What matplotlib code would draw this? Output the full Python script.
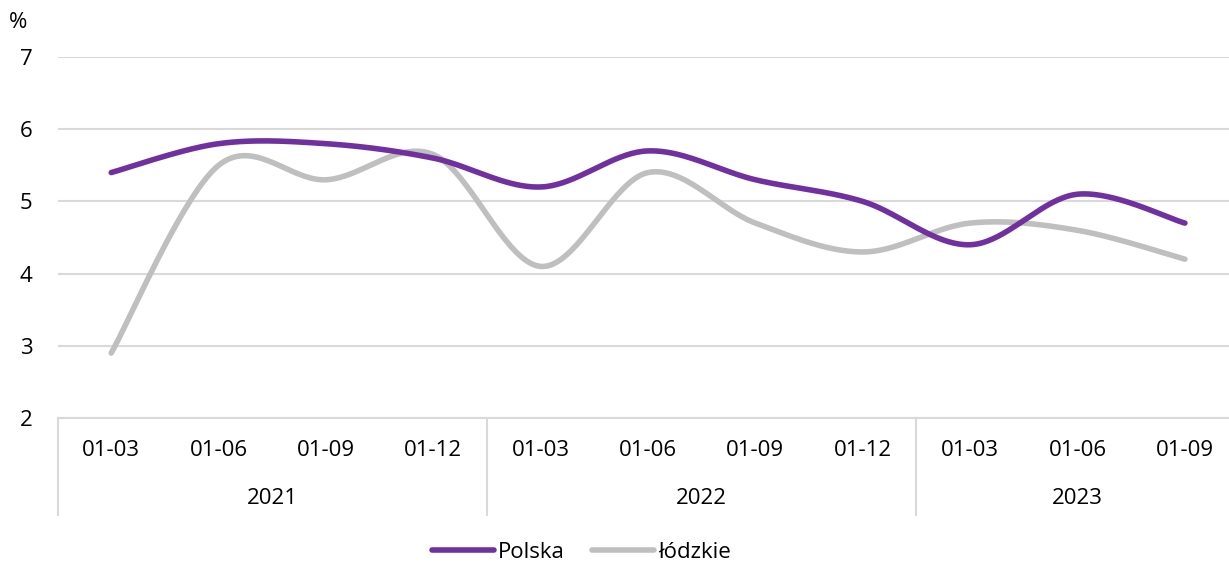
import numpy as np
import matplotlib.pyplot as plt
import matplotlib.transforms as mtransforms

plt.rcParams['font.family'] = ['Open Sans', 'DejaVu Sans']

months = ['01-03', '01-06', '01-09', '01-12',
          '01-03', '01-06', '01-09', '01-12',
          '01-03', '01-06', '01-09']
years = ['2021', '2022', '2023']
year_counts = [4, 4, 3]
polska = [5.4, 5.8, 5.8, 5.6, 5.2, 5.7, 5.3, 5.0, 4.4, 5.1, 4.7]
lodzkie = [2.9, 5.5, 5.3, 5.65, 4.1, 5.4, 4.7, 4.3, 4.7, 4.6, 4.2]


def smooth(xs, ys, n=40):
    # Excel-style smoothed line: Bezier segments with Catmull-Rom control points
    p = np.column_stack([xs, ys]).astype(float)
    ext = np.vstack([p[0], p, p[-1]])
    out = []
    t = np.linspace(0, 1, n)[:, None]
    for i in range(len(p) - 1):
        p0, p3 = ext[i + 1], ext[i + 2]
        c1 = p0 + (ext[i + 2] - ext[i]) / 6
        c2 = p3 - (ext[i + 3] - ext[i + 1]) / 6
        seg = ((1 - t) ** 3 * p0 + 3 * (1 - t) ** 2 * t * c1
               + 3 * (1 - t) * t ** 2 * c2 + t ** 3 * p3)
        out.append(seg if i == 0 else seg[1:])
    out = np.vstack(out)
    return out[:, 0], out[:, 1]


fig = plt.figure(figsize=(12.29, 5.62), dpi=100)
ax = fig.add_axes([0.0468, 0.2562, 0.961, 0.6423])

x = np.arange(len(months))
grid_c = '#D9D9D9'
fs = 16

sx, sy = smooth(x, polska)
ax.plot(sx, sy, color='#7030A0', lw=4.0, solid_capstyle='round', label='Polska', zorder=3)
sx, sy = smooth(x, lodzkie)
ax.plot(sx, sy, color='#BFBFBF', lw=4.0, solid_capstyle='round', label='łódzkie', zorder=2)

ax.set_xlim(-0.5, len(months) - 0.5)
ax.set_ylim(2, 7)
ax.set_yticks(range(2, 8))
ax.yaxis.grid(True, color=grid_c, lw=1.5)
ax.set_axisbelow(True)
for s in ['top', 'right', 'left']:
    ax.spines[s].set_visible(False)
ax.spines['bottom'].set_color(grid_c)
ax.spines['bottom'].set_linewidth(1.5)
ax.tick_params(axis='y', length=0, pad=18, labelsize=fs)
ax.set_xticks([])

trans = mtransforms.blended_transform_factory(ax.transData, ax.transAxes)
for xi, m in zip(x, months):
    ax.text(xi, -0.09, m, transform=trans, ha='center', va='center', fontsize=fs)

start = -0.5
for yr, cnt in zip(years, year_counts):
    ax.plot([start, start], [0, -0.27], transform=trans, color=grid_c, lw=1.5, clip_on=False)
    ax.text(start + cnt / 2, -0.222, yr, transform=trans, ha='center', va='center', fontsize=fs)
    start += cnt

fig.text(18 / 1229, 1 - 22 / 562, '%', ha='center', va='center', fontsize=fs)

fig.legend(loc='center', bbox_to_anchor=(0.473, 1 - 552 / 562), ncol=2, frameon=False,
           fontsize=fs, handlelength=2.8, handletextpad=0.2, columnspacing=1.2)

fig.savefig('out.png', dpi=100)
